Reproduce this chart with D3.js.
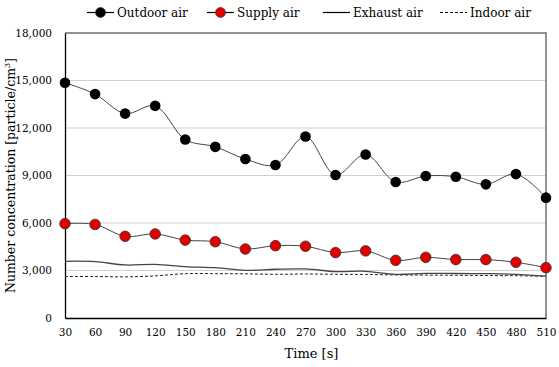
<!DOCTYPE html>
<html>
<head>
<meta charset="utf-8">
<script src="https://cdn.jsdelivr.net/npm/d3@7"></script>
<style>
  body { margin: 0; background: #fff; }
</style>
</head>
<body>
<div id="chart"></div>
<script>
const svgWidth = 559
const svgHeight = 367
const serif = "'DejaVu Serif', serif"

// time steps [s]
const times = [30, 60, 90, 120, 150, 180, 210, 240, 270, 300, 330, 360, 390, 420, 450, 480, 510]
const outdoorAir = [14860, 14140, 12910, 13400, 11270, 10810, 10040, 9660, 11460, 9030, 10330, 8590, 8970, 8920, 8440, 9090, 7600]
const supplyAir = [5960, 5910, 5160, 5310, 4920, 4820, 4360, 4570, 4530, 4130, 4240, 3640, 3830, 3690, 3690, 3520, 3180]
const exhaustAir = [3580, 3560, 3350, 3390, 3250, 3180, 3010, 3080, 3100, 2930, 2950, 2760, 2820, 2810, 2800, 2760, 2640]
const indoorAir = [2620, 2620, 2600, 2660, 2800, 2800, 2790, 2760, 2780, 2760, 2750, 2720, 2710, 2700, 2680, 2670, 2640]
const yTicks = [0, 3000, 6000, 9000, 12000, 15000, 18000]

let margin = { top: 33, right: 13, bottom: 49, left: 65 }
let width = svgWidth - margin.left - margin.right
let height = svgHeight - margin.top - margin.bottom

let svg = d3.select("#chart").append("svg")
  .attr("width", svgWidth)
  .attr("height", svgHeight)
  .attr("font-family", serif)

let chartGroup = svg.append("g")
  .attr("transform", `translate(${margin.left}, ${margin.top})`)

let x = d3.scaleLinear().domain([30, 510]).range([0, width])
let y = d3.scaleLinear().domain([0, 18000]).range([height, 0])

// gridlines
chartGroup.selectAll(".grid").data(yTicks.slice(1, -1)).enter()
  .append("line")
  .attr("x1", 0).attr("x2", width)
  .attr("y1", d => y(d)).attr("y2", d => y(d))
  .attr("stroke", "#d0d0d0").attr("stroke-width", 1.2)

// plot frame (top / right)
chartGroup.append("path")
  .attr("d", `M0,0H${width}V${height}`)
  .attr("fill", "none").attr("stroke", "#707070").attr("stroke-width", 1.5)

let fmt = d3.format(",")

let yAxis = chartGroup.append("g")
  .call(d3.axisLeft(y).tickValues(yTicks).tickFormat(fmt).tickSize(0).tickPadding(13))
  .attr("font-family", serif)
yAxis.select(".domain").attr("stroke", "#000").attr("stroke-width", 1.3)
yAxis.selectAll("text").style("font-size", "10.5px")

let xAxis = chartGroup.append("g")
  .attr("transform", `translate(0, ${height})`)
  .call(d3.axisBottom(x).tickValues(times).tickSize(0).tickPadding(11))
  .attr("font-family", serif)
xAxis.select(".domain").attr("stroke", "#000").attr("stroke-width", 1.3)
xAxis.selectAll("text").style("font-size", "10.5px")

// axis titles
chartGroup.append("text")
  .attr("x", width / 2 + 6)
  .attr("y", height + 40)
  .attr("text-anchor", "middle")
  .style("font-size", "13px")
  .text("Time [s]")

let yTitle = chartGroup.append("text")
  .attr("transform", `translate(${-50}, ${height / 2}) rotate(-90)`)
  .attr("text-anchor", "middle")
  .style("font-size", "12.5px")
yTitle.append("tspan").text("Number concentration [particle/cm")
yTitle.append("tspan").attr("dy", -5).style("font-size", "8px").text("3")
yTitle.append("tspan").attr("dy", 5).text("]")

let curve = d3.curveCatmullRom.alpha(0.5)
let line = d3.line()
  .x((d, i) => x(times[i]))
  .y(d => y(d))
  .curve(curve)

chartGroup.append("path").datum(indoorAir)
  .attr("d", line).attr("fill", "none")
  .attr("stroke", "#222").attr("stroke-width", 1).attr("stroke-dasharray", "3,2")

chartGroup.append("path").datum(exhaustAir)
  .attr("d", line).attr("fill", "none")
  .attr("stroke", "#444").attr("stroke-width", 1.3)

chartGroup.append("path").datum(supplyAir)
  .attr("d", line).attr("fill", "none")
  .attr("stroke", "#444").attr("stroke-width", 1)

chartGroup.append("path").datum(outdoorAir)
  .attr("d", line).attr("fill", "none")
  .attr("stroke", "#444").attr("stroke-width", 1)

chartGroup.selectAll(".supply").data(supplyAir).enter()
  .append("circle")
  .attr("cx", (d, i) => x(times[i]))
  .attr("cy", d => y(d))
  .attr("r", 5.3)
  .attr("fill", "#e00000").attr("stroke", "#333").attr("stroke-width", 0.8)

chartGroup.selectAll(".outdoor").data(outdoorAir).enter()
  .append("circle")
  .attr("cx", (d, i) => x(times[i]))
  .attr("cy", d => y(d))
  .attr("r", 5.3)
  .attr("fill", "#000")

// legend
let legendItems = [
  { name: "Outdoor air", x: 87, marker: "#000", dash: null },
  { name: "Supply air", x: 207, marker: "#e00000", dash: null },
  { name: "Exhaust air", x: 323, marker: null, dash: null },
  { name: "Indoor air", x: 440, marker: null, dash: "3,2" }
]
let legend = svg.append("g").attr("transform", "translate(0, 12.5)")
legendItems.forEach(item => {
  legend.append("line")
    .attr("x1", item.x).attr("x2", item.x + 27)
    .attr("y1", 0).attr("y2", 0)
    .attr("stroke", "#000").attr("stroke-width", 1.2)
    .attr("stroke-dasharray", item.dash)
  if (item.marker) {
    legend.append("circle")
      .attr("cx", item.x + 13.5).attr("cy", 0).attr("r", 5)
      .attr("fill", item.marker).attr("stroke", "#333").attr("stroke-width", 0.6)
  }
  legend.append("text")
    .attr("x", item.x + 30).attr("y", 4.5)
    .style("font-size", "12px")
    .text(item.name)
})
</script>
</body>
</html>
